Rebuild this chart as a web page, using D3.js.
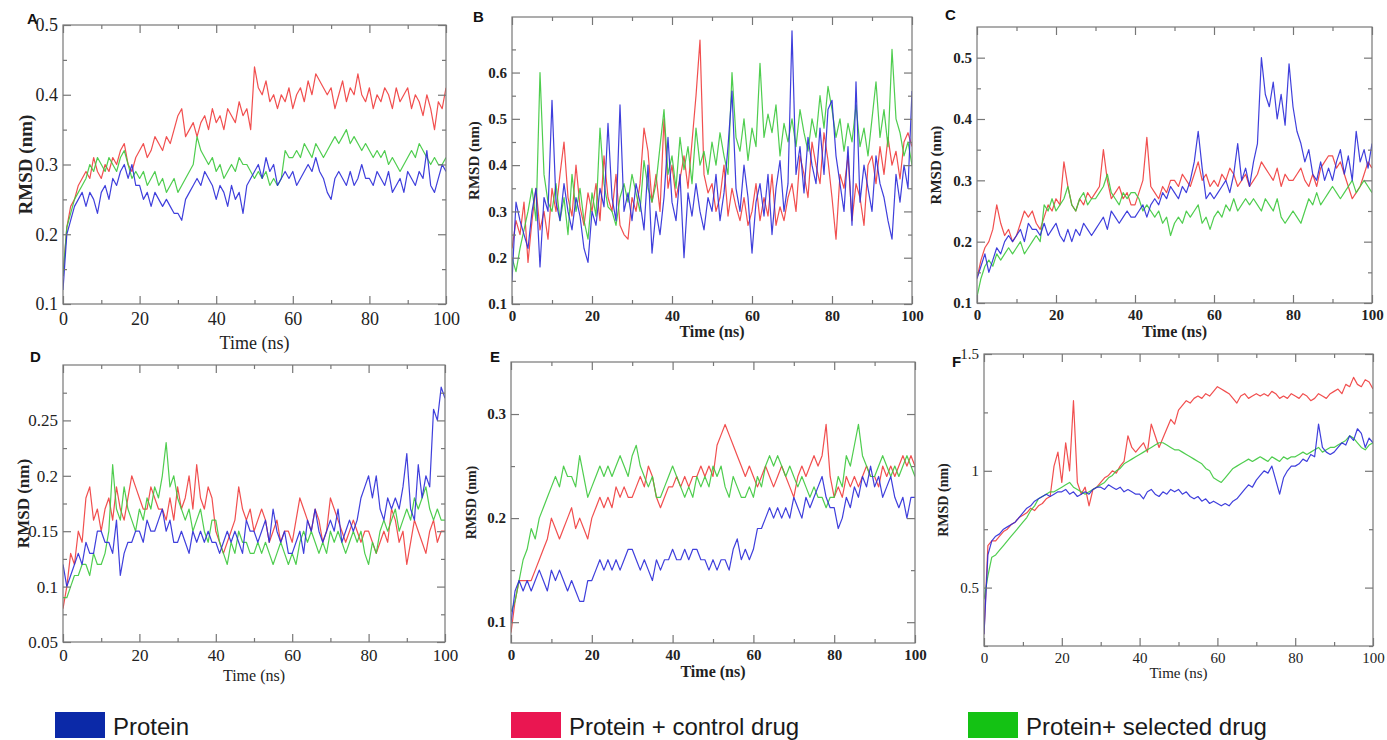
<!DOCTYPE html>
<html>
<head>
<meta charset="utf-8">
<script src="https://cdn.jsdelivr.net/npm/d3@7"></script>
<style>
  body { margin: 0; background: #fff; }
</style>
</head>
<body>
<div id="chart"></div>
<script>
const width = 1387;
const height = 740;

// Sampling grid, 1 ns steps from 0 to 100 ns
const timeNs = d3.range(0, 101);

// Panel A
const aProtein = [.12,.20,.22,.24,.25,.26,.24,.26,.25,.23, .26,.27,.25,.28,.27,.29,.30,.28,.30,.27, .27,.25,.26,.24,.26,.25,.24,.25,.24,.23,
  .23,.22,.25,.26,.27,.28,.27,.29,.28,.27, .25,.27,.26,.24,.27,.25,.26,.23,.27,.28, .29,.30,.28,.31,.29,.30,.27,.28,.29,.28,
  .29,.27,.28,.29,.30,.29,.31,.29,.28,.26, .25,.28,.29,.28,.27,.29,.27,.28,.30,.28, .28,.27,.29,.28,.27,.29,.26,.27,.28,.26,
  .29,.28,.27,.29,.28,.32,.27,.26,.28,.30, .29];
const aControl = [.14,.21,.24,.25,.27,.28,.29,.28,.31,.29, .28,.30,.29,.31,.30,.32,.33,.30,.29,.31, .32,.33,.31,.32,.34,.33,.32,.34,.33,.35,
  .37,.38,.34,.35,.36,.34,.36,.37,.35,.38, .36,.37,.35,.38,.37,.36,.39,.37,.38,.35, .44,.41,.40,.42,.39,.40,.38,.40,.39,.41,
  .38,.40,.41,.39,.42,.40,.43,.42,.41,.40, .41,.38,.40,.42,.39,.41,.40,.43,.40,.39, .41,.38,.40,.39,.41,.40,.38,.41,.39,.40,
  .41,.38,.40,.39,.37,.40,.38,.35,.39,.38, .41];
const aSelected = [.14,.21,.23,.25,.26,.27,.28,.30,.29,.31, .30,.29,.31,.30,.29,.31,.32,.30,.28,.29, .28,.29,.27,.28,.29,.27,.28,.26,.27,.28,
  .26,.27,.28,.29,.30,.34,.32,.31,.30,.31, .29,.30,.28,.29,.30,.29,.31,.30,.30,.29, .28,.29,.28,.29,.27,.28,.27,.28,.32,.31,
  .31,.32,.31,.33,.32,.31,.33,.32,.31,.32, .33,.34,.33,.34,.35,.33,.34,.33,.32,.33, .32,.31,.32,.31,.32,.30,.31,.30,.29,.30,
  .31,.32,.31,.33,.32,.31,.30,.31,.30,.30, .31];

// Panel B
const bProtein = [.15,.32,.28,.25,.22,.30,.35,.18,.33,.30, .54,.32,.28,.36,.30,.26,.33,.29,.22,.19, .30,.27,.35,.31,.49,.33,.28,.53,.30,.34,
  .28,.36,.32,.26,.40,.21,.30,.25,.33,.46, .32,.28,.38,.20,.34,.29,.36,.30,.26,.33, .30,.38,.28,.34,.44,.56,.35,.30,.40,.33,
  .21,.32,.36,.29,.38,.25,.35,.41,.30,.36, .69,.38,.44,.34,.46,.40,.36,.48,.38,.52, .54,.42,.36,.30,.44,.27,.58,.32,.40,.35,
  .30,.42,.36,.33,.28,.24,.38,.32,.40,.35, .56];
const bControl = [.22,.28,.25,.32,.19,.28,.35,.26,.30,.24, .35,.30,.38,.45,.33,.29,.40,.31,.27,.34, .30,.36,.28,.42,.33,.30,.38,.27,.25,.24,
  .33,.30,.36,.48,.43,.32,.38,.30,.50,.35, .40,.33,.37,.42,.35,.45,.55,.67,.38,.34, .36,.30,.33,.40,.29,.35,.31,.28,.33,.27,
  .30,.36,.28,.33,.29,.38,.27,.31,.28,.33, .36,.30,.42,.38,.33,.45,.40,.36,.47,.41, .33,.24,.38,.35,.42,.28,.36,.33,.27,.40,
  .42,.36,.44,.38,.46,.40,.43,.37,.45,.47, .44];
const bSelected = [.20,.17,.22,.26,.30,.35,.28,.60,.38,.32, .30,.36,.28,.33,.25,.38,.30,.35,.28,.24, .34,.29,.48,.36,.31,.30,.27,.33,.36,.32,
  .38,.34,.30,.41,.35,.32,.36,.44,.52,.38, .42,.35,.46,.39,.44,.36,.48,.40,.43,.38, .45,.40,.47,.42,.38,.60,.46,.43,.50,.41,
  .48,.44,.62,.46,.51,.47,.53,.42,.49,.45, .50,.44,.52,.47,.43,.50,.46,.55,.48,.57, .52,.46,.50,.43,.49,.45,.53,.44,.48,.42,
  .50,.58,.46,.52,.44,.65,.50,.47,.42,.45, .40];

// Panel C
const cProtein = [.14,.16,.18,.15,.17,.19,.18,.20,.21,.20, .21,.22,.20,.23,.22,.22,.21,.23,.21,.22, .23,.21,.20,.22,.20,.22,.21,.23,.22,.21,
  .22,.23,.24,.22,.25,.24,.23,.24,.25,.24, .24,.25,.26,.24,.26,.27,.26,.28,.27,.29, .28,.27,.29,.28,.30,.33,.38,.32,.27,.28,
  .27,.28,.29,.30,.28,.31,.36,.30,.32,.29, .33,.36,.50,.44,.42,.46,.40,.44,.39,.49, .42,.38,.36,.33,.35,.31,.30,.33,.30,.32,
  .30,.33,.35,.31,.34,.30,.38,.33,.35,.32, .36];
const cControl = [.14,.17,.19,.20,.22,.26,.23,.21,.22,.20, .21,.23,.25,.24,.25,.23,.22,.24,.26,.25, .27,.26,.33,.29,.26,.25,.27,.26,.28,.27,
  .28,.29,.35,.30,.27,.28,.29,.27,.28,.26, .26,.28,.30,.37,.29,.28,.27,.29,.28,.30, .30,.29,.31,.30,.29,.31,.33,.30,.31,.29,
  .30,.29,.31,.30,.32,.31,.29,.30,.31,.29, .30,.31,.33,.32,.31,.30,.32,.29,.31,.30, .30,.31,.32,.30,.29,.31,.29,.32,.33,.34,
  .34,.32,.33,.31,.29,.27,.28,.29,.31,.33, .32];
const cSelected = [.11,.14,.16,.17,.16,.18,.17,.18,.19,.18, .19,.20,.18,.19,.20,.21,.20,.26,.25,.27, .25,.26,.27,.29,.26,.25,.27,.28,.26,.27,
  .27,.28,.29,.31,.28,.27,.26,.28,.27,.28, .28,.27,.25,.26,.25,.24,.25,.23,.24,.21, .23,.24,.23,.25,.24,.25,.26,.23,.24,.22,
  .24,.25,.24,.26,.25,.27,.25,.26,.27,.26, .27,.26,.25,.27,.26,.25,.27,.24,.23,.24, .25,.24,.23,.25,.27,.26,.28,.26,.27,.28,
  .29,.28,.27,.28,.29,.30,.28,.29,.30,.29, .28];

// Panel D
const dProtein = [.12,.10,.11,.12,.13,.12,.14,.13,.13,.15, .15,.14,.14,.13,.16,.11,.13,.14,.14,.15, .15,.14,.16,.15,.15,.16,.17,.15,.16,.14,
  .14,.15,.14,.13,.15,.14,.15,.14,.15,.14, .14,.13,.14,.15,.14,.15,.14,.13,.16,.15, .15,.14,.15,.16,.14,.17,.15,.14,.15,.13,
  .13,.14,.15,.13,.16,.15,.17,.15,.14,.15, .16,.15,.17,.14,.15,.16,.15,.16,.18,.19, .20,.18,.20,.17,.16,.18,.17,.18,.17,.19,
  .22,.17,.16,.21,.18,.20,.19,.26,.25,.28, .27];
const dControl = [.08,.10,.13,.12,.15,.14,.18,.19,.16,.17, .15,.17,.18,.16,.19,.17,.16,.18,.20,.19, .18,.17,.17,.19,.18,.17,.17,.16,.18,.16,
  .19,.17,.18,.20,.17,.21,.18,.17,.19,.18, .15,.14,.13,.14,.15,.16,.19,.17,.16,.17, .15,.16,.17,.16,.14,.15,.16,.14,.15,.15,
  .14,.16,.18,.17,.16,.15,.17,.16,.14,.15, .18,.17,.16,.15,.14,.15,.16,.15,.14,.15, .15,.14,.13,.14,.15,.14,.17,.16,.14,.15,
  .12,.14,.16,.15,.14,.13,.15,.16,.14,.15, .15];
const dSelected = [.09,.09,.10,.11,.11,.12,.12,.11,.13,.12, .12,.13,.15,.21,.17,.16,.19,.17,.16,.15, .17,.16,.18,.17,.19,.18,.20,.23,.19,.20,
  .18,.17,.16,.17,.15,.16,.17,.15,.14,.16, .16,.14,.13,.12,.14,.13,.15,.14,.14,.13, .13,.14,.13,.14,.13,.12,.13,.14,.13,.12,
  .13,.12,.14,.15,.14,.15,.14,.13,.14,.13, .15,.14,.15,.14,.13,.14,.15,.14,.15,.13, .12,.14,.13,.15,.16,.15,.16,.17,.15,.16,
  .17,.16,.18,.17,.18,.19,.17,.16,.17,.16, .16];

// Panel E
const eProtein = [.10,.13,.14,.13,.14,.13,.14,.15,.14,.13, .15,.14,.15,.14,.13,.14,.13,.12,.12,.14, .14,.15,.16,.15,.16,.15,.16,.15,.16,.17,
  .17,.16,.15,.16,.15,.14,.16,.15,.16,.16, .17,.16,.16,.17,.16,.17,.17,.16,.16,.15, .16,.15,.16,.16,.15,.17,.18,.16,.17,.16,
  .17,.19,.19,.20,.21,.20,.21,.20,.21,.20, .22,.21,.20,.22,.21,.22,.23,.24,.22,.21, .21,.19,.20,.22,.21,.23,.22,.24,.23,.25,
  .23,.24,.22,.23,.24,.22,.21,.22,.20,.22, .22];
const eControl = [.09,.12,.14,.14,.14,.14,.15,.16,.17,.18, .20,.19,.18,.19,.20,.21,.19,.20,.19,.18, .20,.21,.22,.21,.22,.21,.23,.22,.23,.22,
  .22,.23,.24,.23,.25,.24,.22,.21,.22,.23, .23,.24,.23,.24,.23,.24,.24,.25,.24,.25, .24,.27,.28,.29,.28,.27,.26,.25,.24,.25,
  .24,.23,.24,.25,.24,.23,.24,.25,.24,.23, .22,.24,.25,.24,.25,.26,.25,.26,.29,.24, .22,.23,.22,.24,.23,.24,.23,.24,.25,.24,
  .24,.23,.25,.24,.25,.24,.25,.26,.25,.26, .25];
const eSelected = [.11,.12,.14,.16,.17,.19,.18,.20,.21,.22, .23,.24,.23,.25,.24,.24,.23,.26,.24,.22, .23,.24,.25,.24,.25,.24,.25,.26,.25,.24,
  .26,.27,.25,.24,.23,.24,.22,.22,.23,.24, .25,.24,.23,.22,.23,.22,.24,.23,.24,.23, .25,.24,.25,.23,.22,.24,.23,.22,.22,.23,
  .22,.24,.23,.25,.26,.25,.26,.25,.24,.25, .24,.23,.24,.23,.22,.23,.22,.22,.21,.22, .22,.24,.23,.26,.25,.27,.29,.26,.25,.24,
  .24,.25,.26,.25,.24,.25,.24,.25,.26,.25, .24];

// Panel F
const fProtein = [.30,.64,.70,.72,.73,.75,.76,.77,.78,.80, .82,.84,.85,.87,.88,.89,.90,.89,.90,.91, .91,.92,.90,.91,.89,.90,.91,.90,.92,.93,
  .93,.92,.94,.93,.92,.93,.91,.92,.91,.90, .90,.88,.91,.92,.90,.89,.91,.90,.92,.91, .92,.90,.91,.89,.88,.89,.87,.88,.86,.87,
  .86,.85,.86,.85,.87,.88,.90,.92,.94,.93, .96,.98,1.00,.99,1.02,.96,.90,.97,1.00,1.02, 1.02,1.03,1.05,1.04,1.07,1.06,1.20,1.10,1.08,1.07,
  1.08,1.10,1.12,1.11,1.15,1.13,1.18,1.16,1.10,1.14, 1.12];
const fControl = [.30,.68,.70,.70,.72,.74,.75,.77,.78,.80, .81,.82,.84,.83,.85,.86,.88,.89,1.02,1.08, .95,1.12,1.00,1.30,.95,.90,.93,.85,.92,.93,
  .95,.97,.98,1.00,.99,1.02,1.04,1.15,1.10,1.08, 1.10,1.12,1.08,1.20,1.15,1.10,1.14,1.18,1.22,1.20, 1.26,1.28,1.30,1.29,1.31,1.32,1.31,1.33,1.32,1.34,
  1.36,1.35,1.34,1.33,1.31,1.29,1.32,1.33,1.31,1.32, 1.33,1.32,1.33,1.32,1.34,1.33,1.31,1.32,1.31,1.33, 1.32,1.31,1.33,1.32,1.30,1.31,1.33,1.32,1.31,1.33,
  1.34,1.35,1.33,1.37,1.36,1.40,1.37,1.36,1.39,1.38, 1.35];
const fSelected = [.45,.55,.63,.64,.66,.68,.70,.72,.74,.76, .78,.80,.83,.85,.88,.89,.90,.91,.91,.92, .93,.94,.95,.93,.92,.91,.90,.91,.92,.93,
  .94,.95,.97,.98,1.00,1.01,1.03,1.04,1.05,1.06, 1.07,1.08,1.09,1.10,1.11,1.12,1.12,1.11,1.10,1.09, 1.09,1.08,1.07,1.06,1.05,1.04,1.03,1.01,1.00,.97,
  .96,.95,.97,.99,1.01,1.02,1.03,1.04,1.05,1.04, 1.05,1.06,1.05,1.04,1.06,1.05,1.04,1.06,1.05,1.06, 1.06,1.07,1.08,1.07,1.08,1.09,1.10,1.08,1.09,1.10,
  1.10,1.11,1.12,1.13,1.15,1.14,1.12,1.10,1.09,1.11, 1.12];

// Legend / series
const seriesNames = ["Protein", "Protein + control drug", "Protein+ selected drug"];
const lineColors = ["#2a2ad8", "#ef3c3c", "#3cc83c"];
const swatchColors = ["#0b29a8", "#ea1651", "#14c214"];

const xMajor = [0, 20, 40, 60, 80, 100];
const xMinor = [10, 30, 50, 70, 90];

// Panel layout: box = [left, top, right, bottom]
const panels = [
  {letter: "A", series: [aProtein, aControl, aSelected], yDomain: [0.1, 0.5],
   yMajor: [0.1, 0.2, 0.3, 0.4, 0.5], yMinor: [0.15, 0.25, 0.35, 0.45], fmt: d3.format(".1f"),
   box: [63, 25, 446, 304], letterPos: [27, 24], tickFont: 18, tickBold: false, xPad: 8,
   yTitle: [25, 19], xTitleY: 349, xTitleFont: 18, titleBold: false},
  {letter: "B", series: [bProtein, bControl, bSelected], yDomain: [0.1, 0.72],
   yMajor: [0.1, 0.2, 0.3, 0.4, 0.5, 0.6], yMinor: [0.15, 0.25, 0.35, 0.45, 0.55, 0.65], fmt: d3.format(".1f"),
   box: [512, 17, 912, 304], letterPos: [473, 22], tickFont: 15, tickBold: true, xPad: 6,
   yTitle: [474, 15], xTitleY: 337, xTitleFont: 16, titleBold: true},
  {letter: "C", series: [cProtein, cControl, cSelected], yDomain: [0.1, 0.55],
   yMajor: [0.1, 0.2, 0.3, 0.4, 0.5], yMinor: [0.15, 0.25, 0.35, 0.45], fmt: d3.format(".1f"),
   box: [977, 27, 1372, 303], letterPos: [945, 20], tickFont: 15, tickBold: true, xPad: 6,
   yTitle: [936, 15], xTitleY: 337, xTitleFont: 16, titleBold: true},
  {letter: "D", series: [dProtein, dControl, dSelected], yDomain: [0.05, 0.30],
   yMajor: [0.05, 0.1, 0.15, 0.2, 0.25], yMinor: [0.075, 0.125, 0.175, 0.225, 0.275], fmt: d3.format(""),
   box: [63, 365, 445, 642], letterPos: [30, 362], tickFont: 17, tickBold: false, xPad: 7,
   yTitle: [23, 17], xTitleY: 681, xTitleFont: 16, titleBold: false},
  {letter: "E", series: [eProtein, eControl, eSelected], yDomain: [0.08, 0.35],
   yMajor: [0.1, 0.2, 0.3], yMinor: [0.15, 0.25], fmt: d3.format(".1f"),
   box: [511, 362, 915, 643], letterPos: [490, 362], tickFont: 15, tickBold: true, xPad: 6,
   yTitle: [471, 14], xTitleY: 677, xTitleFont: 16, titleBold: true},
  {letter: "F", series: [fProtein, fControl, fSelected], yDomain: [0.25, 1.5],
   yMajor: [0.5, 1, 1.5], yMinor: [0.25, 0.75, 1.25], fmt: d3.format(""),
   box: [984, 354, 1373, 646], letterPos: [952, 367], tickFont: 15, tickBold: false, xPad: 6,
   yTitle: [943, 14], xTitleY: 678, xTitleFont: 15, titleBold: false}
];

const svg = d3.select("#chart")
    .append("svg")
    .attr("width", width)
    .attr("height", height)
    .attr("viewBox", [0, 0, width, height])
    .style("font-family", "'Liberation Serif', 'Times New Roman', serif");

const drawOrder = [1, 2, 0];

panels.forEach((p, i) => {
  const [left, top, right, bottom] = p.box;
  const x = d3.scaleLinear().domain([0, 100]).range([left, right]);
  const y = d3.scaleLinear().domain(p.yDomain).range([bottom, top]);
  const g = svg.append("g");

  g.append("clipPath")
      .attr("id", "clip" + i)
    .append("rect")
      .attr("x", left).attr("y", top)
      .attr("width", right - left).attr("height", bottom - top);

  const line = d3.line()
      .x((d, j) => x(timeNs[j]))
      .y(d => y(d));

  // Series lines
  g.append("g")
      .attr("clip-path", `url(#clip${i})`)
    .selectAll("path")
    .data(drawOrder)
    .join("path")
      .attr("d", k => line(p.series[k]))
      .attr("fill", "none")
      .attr("stroke", k => lineColors[k])
      .attr("stroke-width", 1.2)
      .attr("stroke-opacity", 0.9)
      .attr("stroke-linejoin", "round");

  // Frame
  g.append("rect")
      .attr("x", left).attr("y", top)
      .attr("width", right - left).attr("height", bottom - top)
      .attr("fill", "none")
      .attr("stroke", "#777")
      .attr("stroke-width", 1.2);

  const tickStyle = sel => {
    sel.select(".domain").remove();
    sel.selectAll(".tick line").attr("stroke", "#777").attr("stroke-width", 1.2);
    sel.selectAll(".tick text")
        .attr("fill", "#222")
        .style("font-size", p.tickFont + "px")
        .style("font-weight", p.tickBold ? "bold" : "normal")
        .style("font-family", "'Liberation Serif', serif");
  };

  // Bottom and top x ticks (inward)
  g.append("g")
      .attr("transform", `translate(0,${bottom})`)
      .call(d3.axisBottom(x).tickValues(xMajor).tickSize(-8).tickPadding(p.xPad).tickFormat(d3.format("d")))
      .call(tickStyle);
  g.append("g")
      .attr("transform", `translate(0,${bottom})`)
      .call(d3.axisBottom(x).tickValues(xMinor).tickSize(-4).tickFormat(""))
      .call(tickStyle);
  g.append("g")
      .attr("transform", `translate(0,${top})`)
      .call(d3.axisTop(x).tickValues(xMajor).tickSize(-8).tickFormat(""))
      .call(tickStyle);
  g.append("g")
      .attr("transform", `translate(0,${top})`)
      .call(d3.axisTop(x).tickValues(xMinor).tickSize(-4).tickFormat(""))
      .call(tickStyle);

  // Left and right y ticks (inward)
  g.append("g")
      .attr("transform", `translate(${left},0)`)
      .call(d3.axisLeft(y).tickValues(p.yMajor).tickSize(-8).tickPadding(5).tickFormat(p.fmt))
      .call(tickStyle);
  g.append("g")
      .attr("transform", `translate(${left},0)`)
      .call(d3.axisLeft(y).tickValues(p.yMinor).tickSize(-4).tickFormat(""))
      .call(tickStyle);
  g.append("g")
      .attr("transform", `translate(${right},0)`)
      .call(d3.axisRight(y).tickValues(p.yMajor).tickSize(-8).tickFormat(""))
      .call(tickStyle);
  g.append("g")
      .attr("transform", `translate(${right},0)`)
      .call(d3.axisRight(y).tickValues(p.yMinor).tickSize(-4).tickFormat(""))
      .call(tickStyle);

  // Axis titles
  g.append("text")
      .attr("transform", `translate(${p.yTitle[0]},${(top + bottom) / 2}) rotate(-90)`)
      .attr("text-anchor", "middle")
      .attr("dy", "0.35em")
      .attr("fill", "#222")
      .style("font-size", p.yTitle[1] + "px")
      .style("font-weight", "bold")
      .text("RMSD (nm)");

  g.append("text")
      .attr("x", (left + right) / 2)
      .attr("y", p.xTitleY)
      .attr("text-anchor", "middle")
      .attr("fill", "#222")
      .style("font-size", p.xTitleFont + "px")
      .style("font-weight", p.titleBold ? "bold" : "normal")
      .text("Time (ns)");

  // Panel letter
  g.append("text")
      .attr("x", p.letterPos[0])
      .attr("y", p.letterPos[1])
      .attr("fill", "#111")
      .style("font-family", "'Liberation Sans', Arial, sans-serif")
      .style("font-size", "15px")
      .style("font-weight", "bold")
      .text(p.letter);
});

// Legend
const legendX = [55, 511, 968];
const legend = svg.append("g")
  .selectAll("g")
  .data(seriesNames)
  .join("g")
    .attr("transform", (d, i) => `translate(${legendX[i]},712)`);

legend.append("rect")
    .attr("width", 50)
    .attr("height", 26)
    .attr("fill", (d, i) => swatchColors[i]);

legend.append("text")
    .attr("x", 58)
    .attr("y", 23)
    .attr("fill", "#1a1a1a")
    .style("font-family", "'Liberation Sans', Arial, sans-serif")
    .style("font-size", "24px")
    .text(d => d);
</script>
</body>
</html>
